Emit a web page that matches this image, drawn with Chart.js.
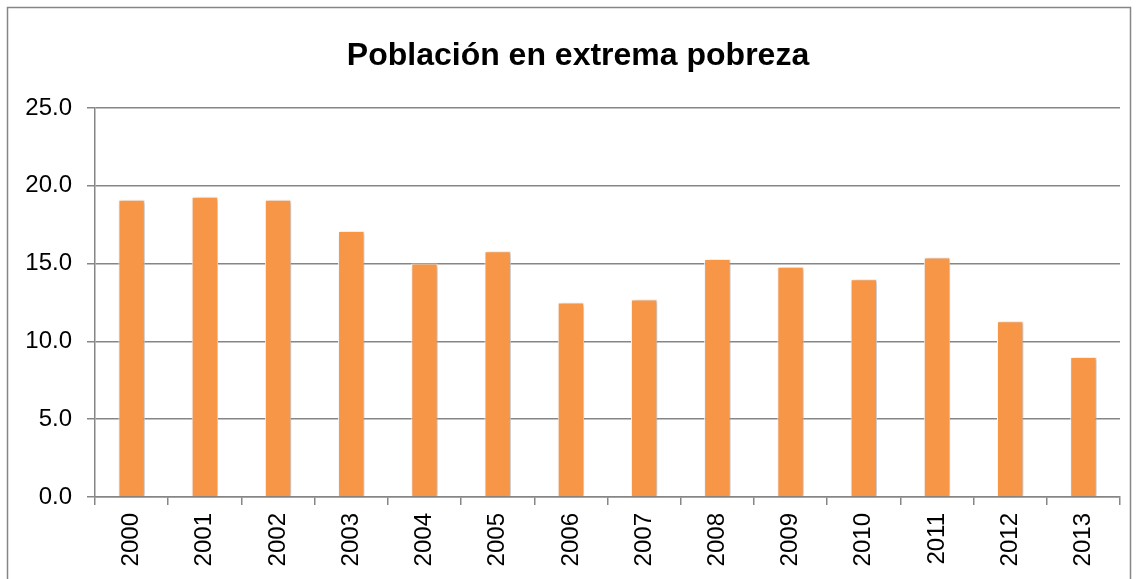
<!DOCTYPE html>
<html>
<head>
<meta charset="utf-8">
<script src="https://cdn.jsdelivr.net/npm/chart.js@4/dist/chart.umd.min.js"></script>
<style>
html,body{margin:0;padding:0;background:#fff;}
#wrap{width:1138px;height:579px;position:relative;}
</style>
</head>
<body>
<div id="wrap"><canvas id="c" width="1138" height="579"></canvas></div>
<script>
const titleText = "Población en extrema pobreza";
const years = ["2000","2001","2002","2003","2004","2005","2006","2007","2008","2009","2010","2011","2012","2013"];
const values = [19.1, 19.3, 19.1, 17.1, 15.0, 15.8, 12.5, 12.7, 15.3, 14.8, 14.0, 15.4, 11.3, 9.0];
const yTicks = [0, 5, 10, 15, 20, 25];

const FONT = "'Liberation Sans', Arial, sans-serif";
const GRID = "#868686";

const frame = {
  id: 'frame',
  beforeDraw(chart) {
    const ctx = chart.ctx;
    ctx.save();
    ctx.fillStyle = '#fff';
    ctx.fillRect(0, 0, chart.width, chart.height);
    ctx.strokeStyle = GRID;
    ctx.lineWidth = 1.5;
    ctx.strokeRect(7.5, 7.5, 1123, 620);
    ctx.restore();
  },
  afterDraw(chart) {
    const ctx = chart.ctx;
    ctx.save();
    ctx.fillStyle = '#000';
    ctx.font = "bold 32px " + FONT;
    ctx.textAlign = 'center';
    ctx.textBaseline = 'alphabetic';
    ctx.fillText(titleText, 578, 65);
    ctx.restore();
  }
};
const shadow = {
  id: 'shadow',
  beforeDatasetsDraw(chart) {
    const ctx = chart.ctx;
    ctx.save();
    ctx.shadowColor = 'rgba(0,0,0,0.28)';
    ctx.shadowBlur = 4;
    ctx.shadowOffsetX = 2;
    ctx.shadowOffsetY = 1;
  },
  afterDatasetsDraw(chart) {
    chart.ctx.restore();
  }
};

new Chart(document.getElementById('c'), {
  type: 'bar',
  data: {
    labels: years,
    datasets: [{
      data: values,
      backgroundColor: '#F79646',
      borderColor: '#FFFFFF',
      borderWidth: 1,
      categoryPercentage: 1.0,
      barPercentage: 0.36
    }]
  },
  options: {
    responsive: false,
    animation: false,
    events: [],
    layout: { padding: { left: 0, right: 18, top: 108, bottom: 0 } },
    plugins: {
      legend: { display: false },
      tooltip: { enabled: false },
      title: { display: false }
    },
    scales: {
      x: {
        grid: {
          display: true,
          offset: true,
          drawOnChartArea: false,
          drawTicks: true,
          tickLength: 8,
          color: GRID,
          lineWidth: 1.5
        },
        border: { display: true, color: GRID, width: 1.5 },
        ticks: {
          color: '#000',
          font: { family: FONT, size: 24 },
          minRotation: 90,
          maxRotation: 90,
          padding: 8,
          autoSkip: false
        },
        afterFit(scale) { scale.height = 82; }
      },
      y: {
        min: 0,
        max: 25,
        afterBuildTicks(scale) { scale.ticks = yTicks.map(v => ({ value: v })); },
        grid: {
          color: GRID,
          lineWidth: 1.5,
          drawTicks: true,
          tickLength: 8
        },
        border: { display: true, color: GRID, width: 1.5 },
        ticks: {
          color: '#000',
          font: { family: FONT, size: 24 },
          padding: 15,
          callback: v => Number(v).toFixed(1)
        },
        afterFit(scale) { scale.width = 95; }
      }
    }
  },
  plugins: [frame, shadow]
});
</script>
</body>
</html>
